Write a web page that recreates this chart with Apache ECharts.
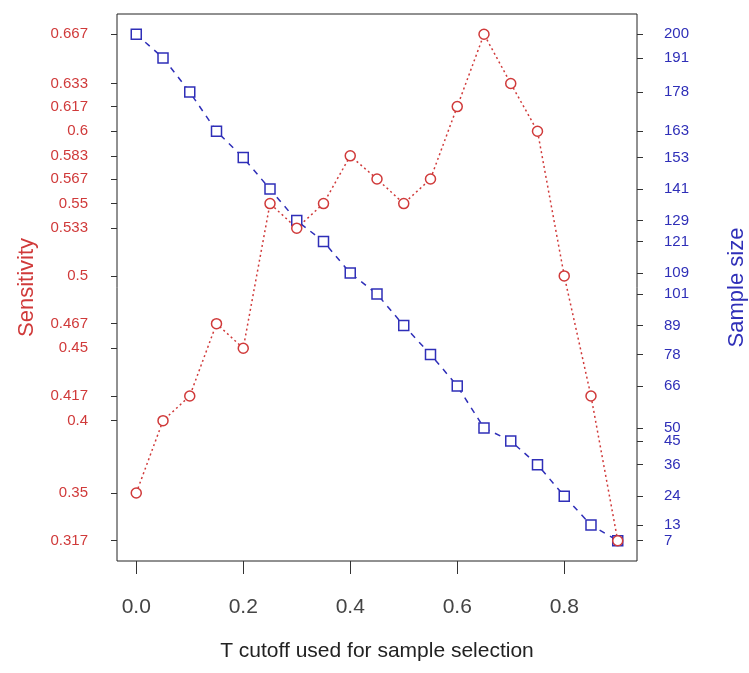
<!DOCTYPE html>
<html>
<head>
<meta charset="utf-8">
<script src="https://cdn.jsdelivr.net/npm/echarts@6/dist/echarts.min.js"></script>
<style>
  html, body { margin: 0; padding: 0; background: #fff; }
  #main { width: 749px; height: 673px; }
</style>
</head>
<body>
<div id="main"></div>
<script>
// T cutoff values
var cutoffs = [0, 0.05, 0.1, 0.15, 0.2, 0.25, 0.3, 0.35, 0.4, 0.45, 0.5, 0.55, 0.6, 0.65, 0.7, 0.75, 0.8, 0.85, 0.9];
var sensitivity = [0.35, 0.4, 0.417, 0.467, 0.45, 0.55, 0.533, 0.55, 0.583, 0.567, 0.55, 0.567, 0.617, 0.667, 0.633, 0.6, 0.5, 0.417, 0.317];
var sampleSize = [200, 191, 178, 163, 153, 141, 129, 121, 109, 101, 89, 78, 66, 50, 45, 36, 24, 13, 7];

var xTicks = ['0.0', '0.2', '0.4', '0.6', '0.8'];
var sensTicks = ['0.667', '0.633', '0.617', '0.6', '0.583', '0.567', '0.55', '0.533', '0.5', '0.467', '0.45', '0.417', '0.4', '0.35', '0.317'];
var sizeTicks = ['200', '191', '178', '163', '153', '141', '129', '121', '109', '101', '89', '78', '66', '50', '45', '36', '24', '13', '7'];

var red = '#d03a3a';
var blue = '#2f2fb8';
var font = 'Liberation Sans, Arial, sans-serif';

// R-style 4% padding on each side
function pad(lo, hi) {
  var d = (hi - lo) * 0.04;
  return [lo - d, hi + d];
}
var xr = pad(0, 0.9);
var sr = pad(0.317, 0.667);
var nr = pad(7, 200);

function lookup(list) {
  return function (v) {
    for (var i = 0; i < list.length; i++) {
      if (Math.abs(Number(list[i]) - v) < 1e-9) return list[i];
    }
    return '';
  };
}

var myChart = echarts.init(document.getElementById('main'));

var option = {
  animation: false,
  textStyle: { fontFamily: font },
  grid: {
    left: 117, right: 112, top: 14, bottom: 112,
    containLabel: false,
    outerBoundsMode: 'none',
    show: true, borderColor: '#222', borderWidth: 1, backgroundColor: 'transparent'
  },
  xAxis: {
    type: 'value',
    min: xr[0], max: xr[1],
    splitLine: { show: false },
    axisLine: { show: false, onZero: false },
    axisTick: { show: true, customValues: xTicks.map(Number), length: 13, lineStyle: { color: '#333' } },
    axisLabel: {
      customValues: xTicks.map(Number), formatter: lookup(xTicks),
      color: '#444', fontSize: 21, margin: 36, fontFamily: font
    },
    name: 'T cutoff used for sample selection',
    nameLocation: 'middle',
    nameGap: 80,
    nameTextStyle: { color: '#222', fontSize: 21, fontFamily: font }
  },
  yAxis: [{
    type: 'value',
    position: 'left',
    min: sr[0], max: sr[1],
    splitLine: { show: false },
    axisLine: { show: false, onZero: false },
    axisTick: { show: true, customValues: sensTicks.map(Number), length: 6, lineStyle: { color: '#333' } },
    axisLabel: {
      customValues: sensTicks.map(Number), formatter: lookup(sensTicks),
      color: red, fontSize: 15, margin: 29, fontFamily: font
    },
    name: 'Sensitivity',
    nameLocation: 'middle',
    nameRotate: 90,
    nameGap: 79,
    nameTextStyle: { color: red, fontSize: 22, fontFamily: font }
  }, {
    type: 'value',
    position: 'right',
    min: nr[0], max: nr[1],
    splitLine: { show: false },
    axisLine: { show: false, onZero: false },
    axisTick: { show: true, customValues: sizeTicks.map(Number), length: 6, lineStyle: { color: '#333' } },
    axisLabel: {
      customValues: sizeTicks.map(Number), formatter: lookup(sizeTicks),
      color: blue, fontSize: 15, margin: 27, fontFamily: font
    },
    name: 'Sample size',
    nameLocation: 'middle',
    nameRotate: 90,
    nameGap: 89,
    nameTextStyle: { color: blue, fontSize: 22, fontFamily: font }
  }],
  series: [{
    name: 'Sample size',
    type: 'line',
    yAxisIndex: 1,
    data: cutoffs.map(function (c, i) { return [c, sampleSize[i]]; }),
    symbol: 'rect',
    symbolSize: 10,
    showAllSymbol: true,
    lineStyle: { color: blue, width: 1.5, type: [6, 6] },
    itemStyle: { color: '#fff', borderColor: blue, borderWidth: 1.5 }
  }, {
    name: 'Sensitivity',
    type: 'line',
    yAxisIndex: 0,
    data: cutoffs.map(function (c, i) { return [c, sensitivity[i]]; }),
    symbol: 'circle',
    symbolSize: 10,
    showAllSymbol: true,
    lineStyle: { color: red, width: 1.5, type: [2, 3] },
    itemStyle: { color: '#fff', borderColor: red, borderWidth: 1.5 }
  }]
};

myChart.setOption(option);
</script>
</body>
</html>
